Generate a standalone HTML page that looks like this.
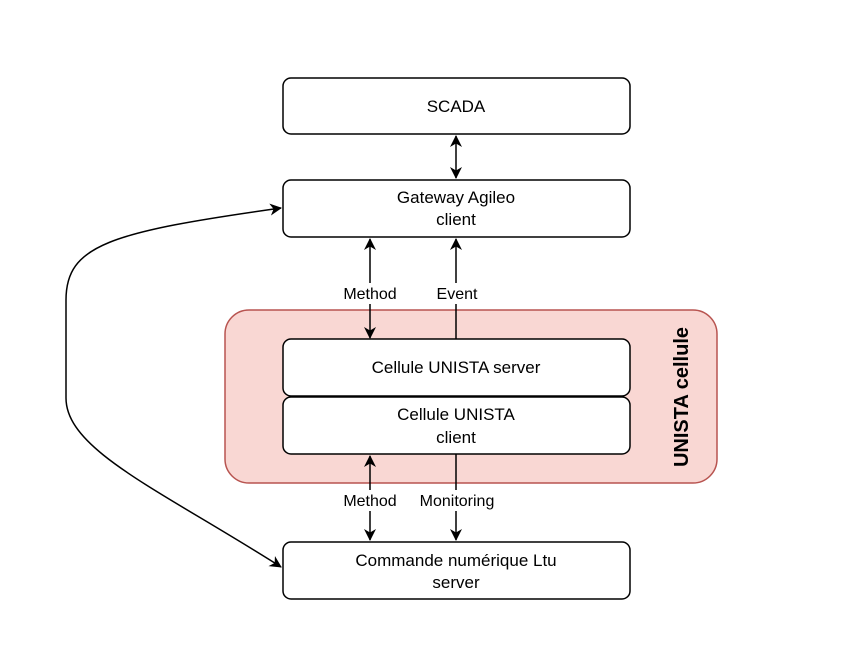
<!DOCTYPE html>
<html><head><meta charset="utf-8"><style>
html,body{margin:0;padding:0;background:#fff;}
svg text{font-family:"Liberation Sans",Arial,sans-serif;font-size:17px;fill:#000;}
</style></head><body>
<svg width="856" height="644" xmlns="http://www.w3.org/2000/svg">
<defs>
<marker id="a" viewBox="0 0 12 12" refX="11" refY="6" markerWidth="12" markerHeight="12" markerUnits="userSpaceOnUse" orient="auto-start-reverse">
<path d="M0,0 L12,6 L0,12 L3.5,6 Z" fill="#000"/></marker>
</defs>
<rect x="225" y="310" width="492" height="173" rx="24" fill="#f9d7d3" stroke="#b85450" stroke-width="1.5"/>
<text x="0" y="0" transform="translate(688,397) rotate(-90)" text-anchor="middle" style="font-weight:bold;font-size:20px">UNISTA cellule</text>
<g fill="#fff" stroke="#000" stroke-width="1.5">
<rect x="283" y="78" width="347" height="56" rx="8"/>
<rect x="283" y="180" width="347" height="57" rx="8"/>
<rect x="283" y="339" width="347" height="57" rx="8"/>
<rect x="283" y="397" width="347" height="57" rx="8"/>
<rect x="283" y="542" width="347" height="57" rx="8"/>
</g>
<g stroke="#000" stroke-width="1.5" fill="none">
<line x1="456" y1="136" x2="456" y2="178" marker-start="url(#a)" marker-end="url(#a)"/>
<line x1="370" y1="239" x2="370" y2="283" marker-start="url(#a)"/>
<line x1="370" y1="304" x2="370" y2="338" marker-end="url(#a)"/>
<line x1="456" y1="239" x2="456" y2="283" marker-start="url(#a)"/>
<line x1="456" y1="304" x2="456" y2="339"/>
<line x1="370" y1="456" x2="370" y2="490" marker-start="url(#a)"/>
<line x1="370" y1="511" x2="370" y2="540" marker-end="url(#a)"/>
<line x1="456" y1="454" x2="456" y2="490"/>
<line x1="456" y1="511" x2="456" y2="540" marker-end="url(#a)"/>
<path d="M281,208 C110,232 66,245 66,300 L66,398 C66,450 160,490 281,567" marker-start="url(#a)" marker-end="url(#a)"/>
</g>
<text x="456" y="112" text-anchor="middle">SCADA</text>
<text x="456" y="203" text-anchor="middle">Gateway Agileo</text>
<text x="456" y="225" text-anchor="middle">client</text>
<text x="456" y="373" text-anchor="middle">Cellule UNISTA server</text>
<text x="456" y="420" text-anchor="middle">Cellule UNISTA</text>
<text x="456" y="443" text-anchor="middle">client</text>
<text x="456" y="566" text-anchor="middle">Commande numérique Ltu</text>
<text x="456" y="588" text-anchor="middle">server</text>
<text x="370" y="299" text-anchor="middle" style="font-size:16px">Method</text>
<text x="457" y="299" text-anchor="middle" style="font-size:16px">Event</text>
<text x="370" y="506" text-anchor="middle" style="font-size:16px">Method</text>
<text x="457" y="506" text-anchor="middle" style="font-size:16px">Monitoring</text>
</svg>
</body></html>
